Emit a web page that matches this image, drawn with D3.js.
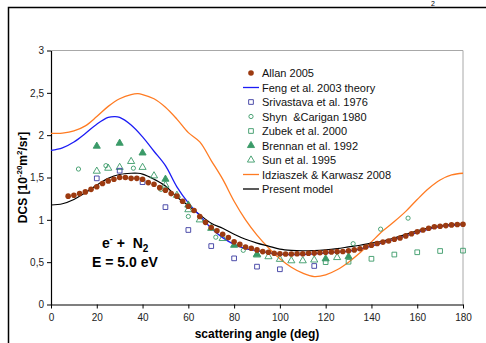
<!DOCTYPE html>
<html>
<head>
<meta charset="utf-8">
<script src="https://cdnjs.cloudflare.com/ajax/libs/d3/7.8.5/d3.min.js"></script>
<style>
  body { margin: 0; background: #fff; }
  svg { display: block; font-family: "Liberation Sans", Arial, sans-serif; }
  svg text { white-space: pre; }
</style>
</head>
<body>
<div id="chart"></div>
<script>
/* -----------------    DATA     ------------------ */

// Allan 2005 (dots)
const allanAngle = [7.5, 10, 12.5, 15, 17.5, 20, 22.5, 25, 27.5, 30, 32.5, 35, 37.5, 40, 42.5, 45, 47.5, 50,
  52.5, 55, 57.5, 60, 62.5, 65, 67.5, 70, 72.5, 75, 77.5, 80, 82.5, 85, 87.5, 90, 92.5, 95, 97.5, 100,
  102.5, 105, 107.5, 110, 112.5, 115, 117.5, 120, 122.5, 125, 127.5, 130, 132.5, 135, 137.5, 140,
  142.5, 145, 147.5, 150, 152.5, 155, 157.5, 160, 162.5, 165, 167.5, 170, 172.5, 175, 177.5, 180];
const allanDcs = [1.28, 1.29, 1.31, 1.33, 1.36, 1.39, 1.43, 1.46, 1.48, 1.5, 1.5, 1.49, 1.49, 1.48, 1.44, 1.42, 1.38, 1.35,
  1.31, 1.28, 1.22, 1.16, 1.11, 1.04, 0.97, 0.91, 0.87, 0.83, 0.79, 0.74, 0.71, 0.68, 0.665, 0.645, 0.625, 0.617, 0.605, 0.6,
  0.597, 0.597, 0.6, 0.6, 0.605, 0.607, 0.612, 0.617, 0.62, 0.624, 0.626, 0.635, 0.645, 0.658, 0.68, 0.7,
  0.72, 0.737, 0.75, 0.77, 0.785, 0.81, 0.835, 0.858, 0.88, 0.9, 0.918, 0.925, 0.932, 0.94, 0.945, 0.948];

// Curves
const fengAngle = [0, 5, 10, 15, 20, 25, 28, 30, 35, 40, 45, 50, 55, 60, 65, 70, 75, 80, 85, 90, 95, 100,
  105, 110, 115, 120, 125, 130, 135, 140, 145, 150, 155, 160, 165, 170, 175, 180];
const fengDcs = [1.82, 1.85, 1.92, 2.02, 2.13, 2.21, 2.22, 2.21, 2.12, 1.98, 1.81, 1.64, 1.39, 1.2, 1.05, 0.9, 0.79, 0.71, 0.66, 0.635, 0.61, 0.595,
  0.59, 0.59, 0.597, 0.608, 0.618, 0.63, 0.655, 0.69, 0.73, 0.77, 0.81, 0.85, 0.89, 0.92, 0.935, 0.945];

const idzAngle = [0, 5, 10, 15, 20, 25, 30, 35, 38, 40, 45, 50, 55, 60, 65, 70, 75, 80, 85, 90, 95, 100,
  105, 110, 115, 120, 125, 130, 135, 140, 145, 150, 155, 160, 165, 170, 175, 180];
const idzDcs = [2.02, 2.025, 2.05, 2.11, 2.22, 2.34, 2.43, 2.48, 2.49, 2.48, 2.43, 2.33, 2.19, 2.03, 1.92, 1.7, 1.48, 1.22, 1.0, 0.82, 0.67, 0.54,
  0.44, 0.37, 0.33, 0.35, 0.41, 0.5, 0.61, 0.74, 0.87, 0.98, 1.1, 1.24, 1.37, 1.47, 1.53, 1.55];

const modelAngle = [0, 5, 10, 15, 20, 25, 30, 35, 38, 40, 45, 50, 55, 60, 65, 70, 75, 80, 85, 90, 95, 100,
  105, 110, 115, 120, 125, 130, 135, 140, 145, 150, 155, 160, 165, 170, 175, 180];
const modelDcs = [1.175, 1.19, 1.24, 1.32, 1.41, 1.49, 1.535, 1.55, 1.55, 1.54, 1.48, 1.4, 1.27, 1.17, 1.06, 0.96, 0.9, 0.83, 0.77, 0.725, 0.69, 0.655,
  0.64, 0.635, 0.636, 0.645, 0.66, 0.68, 0.7, 0.725, 0.75, 0.785, 0.83, 0.87, 0.905, 0.93, 0.945, 0.95];

// Measurements
const srivAngle = [20, 30, 40, 50, 60, 70, 80, 90, 100, 115];
const srivDcs = [1.49, 1.58, 1.445, 1.15, 0.88, 0.69, 0.545, 0.447, 0.416, 0.455];

const shynAngle = [12, 24, 36, 48, 60, 72, 84, 132, 144, 156];
const shynDcs = [1.6, 1.64, 1.61, 1.36, 1.04, 0.795, 0.64, 0.718, 0.89, 1.02];

const zubekAngle = [120, 130, 140, 150, 160, 170, 180];
const zubekDcs = [0.5, 0.505, 0.54, 0.59, 0.617, 0.632, 0.636];

const brennanAngle = [20, 30, 40, 50, 60, 70, 80, 90, 120, 130];
const brennanDcs = [1.87, 1.905, 1.79, 1.48, 1.175, 0.9, 0.7, 0.593, 0.54, 0.565];

const sunAngle = [20, 25, 30, 35, 40, 45, 50, 55, 60, 65, 75, 90, 95, 100, 105, 110, 115, 125];
const sunDcs = [1.575, 1.61, 1.62, 1.69, 1.62, 1.52, 1.41, 1.29, 1.12, 1.0, 0.78, 0.585, 0.565, 0.534, 0.517, 0.517, 0.526, 0.555];

const xTicks = [0, 20, 40, 60, 80, 100, 120, 140, 160, 180];
const yTicks = [0, 0.5, 1, 1.5, 2, 2.5, 3];

const legendLabels = ['Allan 2005', 'Feng et al. 2003 theory', 'Srivastava et al. 1976', 'Shyn  &Carigan 1980',
  'Zubek et al. 2000', 'Brennan et al. 1992', 'Sun et al. 1995', 'Idziaszek & Karwasz 2008', 'Present model'];

/* -----------------    SETTINGS     ------------------ */

const W = 486, H = 343;
const plot = {left: 51, right: 463, top: 50.5, bottom: 304.5};

const colAllan = '#9c3a10';
const colFeng = '#1c1cf5';
const colIdz = '#ff7b22';
const colGreen = '#3a9a68';
const colNavy = '#3a3aa0';

/* -----------------    DRAW     ------------------ */

const svg = d3.select('#chart').append('svg')
  .attr('width', W).attr('height', H);

// outer frame (partly cut by the picture)
svg.append('path')
  .attr('d', `M8.5,${H} V7.5 H${W}`)
  .attr('fill', 'none').attr('stroke', '#000').attr('stroke-width', 1.5);
svg.append('text').attr('x', 431).attr('y', 6).attr('font-size', 7).text('2');

const x = d3.scaleLinear().domain([0, 180]).range([plot.left, plot.right]);
const y = d3.scaleLinear().domain([0, 3]).range([plot.bottom, plot.top]);

// gray plot border top / right
svg.append('path')
  .attr('d', `M${plot.left},${plot.top} H${plot.right} V${plot.bottom}`)
  .attr('fill', 'none').attr('stroke', '#a8a8a8').attr('stroke-width', 1);

// axes
const xAxis = svg.append('g')
  .attr('transform', `translate(0,${plot.bottom})`)
  .call(d3.axisBottom(x).tickValues(xTicks).tickSize(4).tickSizeOuter(0).tickPadding(5));
const yAxis = svg.append('g')
  .attr('transform', `translate(${plot.left},0)`)
  .call(d3.axisLeft(y).tickValues(yTicks).tickSize(4).tickSizeOuter(0).tickPadding(3)
    .tickFormat(d => String(d).replace('.', ',')));

[xAxis, yAxis].forEach(a => {
  a.select('.domain').attr('stroke', '#000').attr('stroke-width', 1.2);
  a.selectAll('.tick line').attr('stroke', '#000');
  a.selectAll('.tick text').attr('font-family', '"Liberation Sans", Arial, sans-serif')
    .attr('font-size', 10).attr('fill', '#222');
});

// axis titles
svg.append('text')
  .attr('x', (plot.left + plot.right) / 2).attr('y', 338)
  .attr('text-anchor', 'middle').attr('font-size', 12).attr('font-weight', 'bold')
  .text('scattering angle (deg)');

const yTitle = svg.append('text')
  .attr('transform', `translate(27,${(plot.top + plot.bottom) / 2}) rotate(-90)`)
  .attr('text-anchor', 'middle').attr('font-size', 12).attr('font-weight', 'bold');
yTitle.append('tspan').text('DCS [10');
yTitle.append('tspan').attr('dy', -5).attr('font-size', 8).text('-20');
yTitle.append('tspan').attr('dy', 5).text('m');
yTitle.append('tspan').attr('dy', -5).attr('font-size', 8).text('2');
yTitle.append('tspan').attr('dy', 5).text('/sr]');

// annotation
const ann1 = svg.append('text').attr('x', 102).attr('y', 248)
  .attr('font-size', 14).attr('font-weight', 'bold');
ann1.append('tspan').text('e');
ann1.append('tspan').attr('dy', -6).attr('font-size', 9).text('-');
ann1.append('tspan').attr('dy', 6).text(' +  N');
ann1.append('tspan').attr('dy', 4).attr('font-size', 10).text('2');
svg.append('text').attr('x', 92).attr('y', 267)
  .attr('font-size', 14).attr('font-weight', 'bold').text('E = 5.0 eV');

// curves
const line = d3.line().x(d => x(d[0])).y(d => y(d[1])).curve(d3.curveCatmullRom);
const drawCurve = (angles, vals, col, w) => svg.append('path')
  .datum(d3.zip(angles, vals))
  .attr('d', line).attr('fill', 'none').attr('stroke', col).attr('stroke-width', w);

drawCurve(idzAngle, idzDcs, colIdz, 1.3);
drawCurve(modelAngle, modelDcs, '#000', 1.2);
drawCurve(fengAngle, fengDcs, colFeng, 1.3);

// markers
const sym = {
  square: d3.symbol().type(d3.symbolSquare).size(22),
  triangle: d3.symbol().type(d3.symbolTriangle).size(22),
  circle: d3.symbol().type(d3.symbolCircle).size(14)
};

const drawMarks = (angles, vals, shape, stroke, fill) => svg.append('g')
  .selectAll('path').data(d3.zip(angles, vals)).enter().append('path')
  .attr('transform', d => `translate(${x(d[0])},${y(d[1])})`)
  .attr('d', sym[shape]).attr('fill', fill).attr('stroke', stroke).attr('stroke-width', 0.9);

drawMarks(shynAngle, shynDcs, 'circle', colGreen, 'none');
drawMarks(sunAngle, sunDcs, 'triangle', colGreen, 'none');
drawMarks(zubekAngle, zubekDcs, 'square', colGreen, 'none');
drawMarks(srivAngle, srivDcs, 'square', colNavy, 'none');
drawMarks(brennanAngle, brennanDcs, 'triangle', colGreen, colGreen);

svg.append('g').selectAll('circle').data(d3.zip(allanAngle, allanDcs)).enter().append('circle')
  .attr('cx', d => x(d[0])).attr('cy', d => y(d[1])).attr('r', 2.8).attr('fill', colAllan);

// legend
const lgX = 243, lgY0 = 73, lgDy = 14.5;
const lg = svg.append('g').attr('font-size', 11).attr('fill', '#111');
legendLabels.forEach((lab, i) => {
  const yy = lgY0 + i * lgDy;
  lg.append('text').attr('x', lgX + 19).attr('y', yy + 4).text(lab);
  const cx = lgX + 8;
  if (i === 0) lg.append('circle').attr('cx', cx).attr('cy', yy).attr('r', 2.8).attr('fill', colAllan);
  if (i === 1 || i === 7 || i === 8) {
    lg.append('line').attr('x1', lgX).attr('x2', lgX + 16).attr('y1', yy).attr('y2', yy)
      .attr('stroke', [colFeng, colIdz, '#000'][[1, 7, 8].indexOf(i)]).attr('stroke-width', 1.3);
  }
  const mk = {2: ['square', colNavy, 'none'], 3: ['circle', colGreen, 'none'], 4: ['square', colGreen, 'none'],
    5: ['triangle', colGreen, colGreen], 6: ['triangle', colGreen, 'none']}[i];
  if (mk) {
    lg.append('path').attr('transform', `translate(${cx},${yy})`)
      .attr('d', sym[mk[0]]).attr('stroke', mk[1]).attr('fill', mk[2]).attr('stroke-width', 0.9);
  }
});
</script>
</body>
</html>
